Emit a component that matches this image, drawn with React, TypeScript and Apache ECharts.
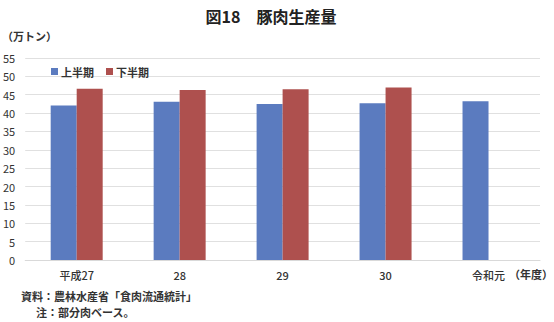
import React, { useEffect, useRef } from "react";
import * as echarts from "echarts";

const categories = ["平成27", "28", "29", "30", "令和元"];
const firstHalf = [42.1, 43.1, 42.5, 42.7, 43.2];
const secondHalf: (number | null)[] = [46.6, 46.3, 46.5, 47.0, null];
const seriesNames = ["上半期", "下半期"];
const titleText = "図18　豚肉生産量";
const unitText = "（万トン）";
const yearText = "（年度）";
const sourceText = "資料：農林水産省「食肉流通統計」";
const noteText = "注：部分肉ベース。";

const FONT = "'Noto Sans CJK JP', 'Noto Sans', sans-serif";

export default function App() {
  const ref = useRef<HTMLDivElement>(null);
  useEffect(() => {
    if (!ref.current) return;
    const chart = echarts.init(ref.current, null, { renderer: "svg" });
    chart.setOption({
      animation: false,
      backgroundColor: "#ffffff",
      textStyle: { fontFamily: FONT },
      title: {
        text: titleText,
        left: 266,
        textAlign: "center",
        top: 3,
        textStyle: { fontSize: 16, fontWeight: "bold", color: "#222", fontFamily: FONT },
      },
      legend: {
        left: 46,
        top: 61,
        itemWidth: 7,
        itemHeight: 7,
        itemGap: 12,
        icon: "rect",
        textStyle: { fontSize: 11, fontWeight: "bold", color: "#333", padding: [0, 0, 0, -2] },
        data: seriesNames,
      },
      grid: { left: 24, right: 14, top: 58, bottom: 62, containLabel: false },
      xAxis: {
        type: "category",
        data: categories,
        axisTick: { show: false },
        axisLine: { lineStyle: { color: "#d9d9d9" } },
        axisLabel: { fontSize: 11, color: "#333", margin: 9, fontWeight: 500 },
      },
      yAxis: {
        type: "value",
        min: 0,
        max: 55,
        interval: 5,
        axisLine: { show: false },
        axisTick: { show: false },
        splitLine: { lineStyle: { color: "#e0e0e0" } },
        axisLabel: { fontSize: 11, color: "#333", margin: 10, align: "right" },
      },
      series: [
        {
          name: seriesNames[0],
          type: "bar",
          data: firstHalf,
          barWidth: 26,
          barGap: "0%",
          itemStyle: { color: "#5B7BBF" },
        },
        {
          name: seriesNames[1],
          type: "bar",
          data: secondHalf,
          barWidth: 26,
          barGap: "0%",
          itemStyle: { color: "#AE504E" },
        },
      ],
      graphic: [
        { type: "text", left: 2, top: 30, style: { text: unitText, fontSize: 11, fontWeight: "bold", fill: "#333", fontFamily: FONT } },
        { type: "text", right: 1, top: 268, style: { text: yearText, fontSize: 11, fontWeight: "bold", fill: "#333", fontFamily: FONT } },
        { type: "text", left: 21, top: 290, style: { text: sourceText, fontSize: 11, fontWeight: "bold", fill: "#333", fontFamily: FONT } },
        { type: "text", left: 36, top: 306, style: { text: noteText, fontSize: 11, fontWeight: "bold", fill: "#333", fontFamily: FONT } },
      ],
    });
    return () => chart.dispose();
  }, []);
  return <div ref={ref} style={{ width: 554, height: 322, position: "absolute", left: 0, top: 0 }} />;
}
